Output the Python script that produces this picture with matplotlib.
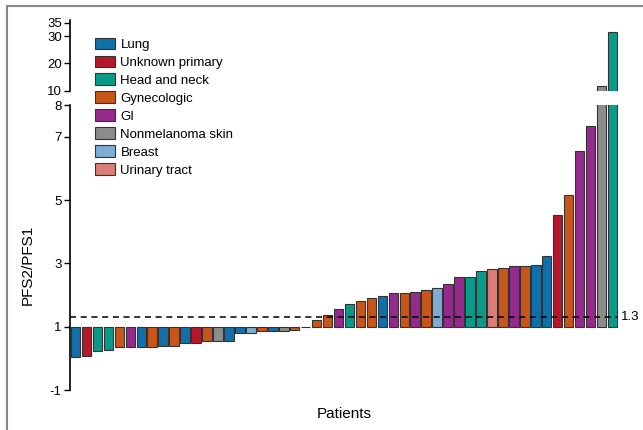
import numpy as np
import matplotlib.pyplot as plt
from matplotlib.patches import Patch
from matplotlib.lines import Line2D

plt.rcParams['font.family'] = ['Liberation Sans', 'DejaVu Sans']
plt.rcParams['axes.unicode_minus'] = False

# tumor type per patient, sorted by PFS2/PFS1 ratio
cancer_types = ['Lung', 'Unknown primary', 'Head and neck', 'Gynecologic', 'GI',
                'Nonmelanoma skin', 'Breast', 'Urinary tract']
type_colors = ['#1170aa', '#b5182b', '#0a9a8a', '#c8561a', '#952a8c',
               '#8c8c8c', '#7eadd3', '#d97f78']

patient_type = ['Lung', 'Unknown primary', 'Head and neck', 'Head and neck', 'Gynecologic',
                'GI', 'Lung', 'Gynecologic', 'Lung', 'Gynecologic',
                'Lung', 'Unknown primary', 'Gynecologic', 'Nonmelanoma skin', 'Lung',
                'Lung', 'Breast', 'Gynecologic', 'Lung', 'Nonmelanoma skin',
                'Gynecologic', 'Gynecologic', 'Gynecologic', 'Gynecologic', 'GI',
                'Head and neck', 'Gynecologic', 'Gynecologic', 'Lung', 'GI',
                'Gynecologic', 'GI', 'Gynecologic', 'Breast', 'GI',
                'GI', 'Head and neck', 'Head and neck', 'Urinary tract', 'Gynecologic',
                'GI', 'Gynecologic', 'Lung', 'Lung', 'Unknown primary',
                'Gynecologic', 'GI', 'GI', 'Nonmelanoma skin', 'Head and neck']
pfs_ratio = [0.03, 0.08, 0.24, 0.25, 0.35, 0.36, 0.37, 0.37, 0.38, 0.40,
             0.48, 0.50, 0.55, 0.55, 0.56, 0.81, 0.81, 0.85, 0.86, 0.86,
             0.91, 0.98, 1.22, 1.38, 1.57, 1.72, 1.81, 1.92, 1.98, 2.07,
             2.07, 2.11, 2.15, 2.24, 2.34, 2.56, 2.58, 2.76, 2.82, 2.85,
             2.91, 2.91, 2.94, 3.25, 4.53, 5.17, 6.57, 7.34, 11.7, 31.6]
threshold = 1.3
baseline = 1

color_map = dict(zip(cancer_types, type_colors))
bar_colors = [color_map[t] for t in patient_type]
x = np.arange(len(pfs_ratio))
heights = np.array(pfs_ratio) - baseline

fig = plt.figure(figsize=(6.43, 4.3), dpi=100)
ax_top = fig.add_axes([0.109, 0.789, 0.852, 0.165])
ax_bot = fig.add_axes([0.109, 0.093, 0.852, 0.662])

for ax in (ax_top, ax_bot):
    ax.bar(x, heights, bottom=baseline, width=0.87, color=bar_colors,
           edgecolor='#333333', linewidth=0.8)
    ax.set_xlim(-0.5, len(pfs_ratio) - 0.5)
    for s in ['top', 'right', 'bottom']:
        ax.spines[s].set_visible(False)
    ax.spines['left'].set_linewidth(1.2)
    ax.set_xticks([])
    ax.tick_params(axis='y', direction='out', length=4, width=1, labelsize=9.5, pad=2)

ax_top.set_ylim(10, 36)
ax_top.set_yticks([10, 20, 30, 35])
ax_top.spines['left'].set_bounds(10, 36)

ax_bot.set_ylim(-1, 8)
ax_bot.set_yticks([-1, 1, 3, 5, 7, 8])
ax_bot.spines['left'].set_bounds(-1, 8)

ax_bot.axhline(threshold, color='black', linestyle=(0, (4, 3)), linewidth=1.1,
               clip_on=False, zorder=3)
ax_bot.text(len(pfs_ratio) - 0.2, threshold, '1.3', va='center', ha='left', fontsize=9.5)

ax_bot.set_ylabel('PFS2/PFS1', fontsize=11)
ax_bot.yaxis.set_label_coords(-0.065, 0.44)
ax_bot.set_xlabel('Patients', fontsize=11)
ax_bot.xaxis.set_label_coords(0.5, -0.06)

handles = [Patch(facecolor=c, edgecolor='#333333', linewidth=0.8) for c in type_colors]
fig.legend(handles, cancer_types, loc='upper left', bbox_to_anchor=(0.139, 0.925),
           frameon=False, fontsize=9.5, handlelength=1.55, handleheight=0.95,
           labelspacing=0.36, handletextpad=0.4, borderaxespad=0)

# frame lines on top and left of the figure
fig.add_artist(Line2D([0.011, 1.0], [0.987, 0.987], color='#888888', linewidth=1.5))
fig.add_artist(Line2D([0.011, 0.011], [0.0, 0.987], color='#888888', linewidth=1.5))

fig.savefig('out.png', dpi=100)
